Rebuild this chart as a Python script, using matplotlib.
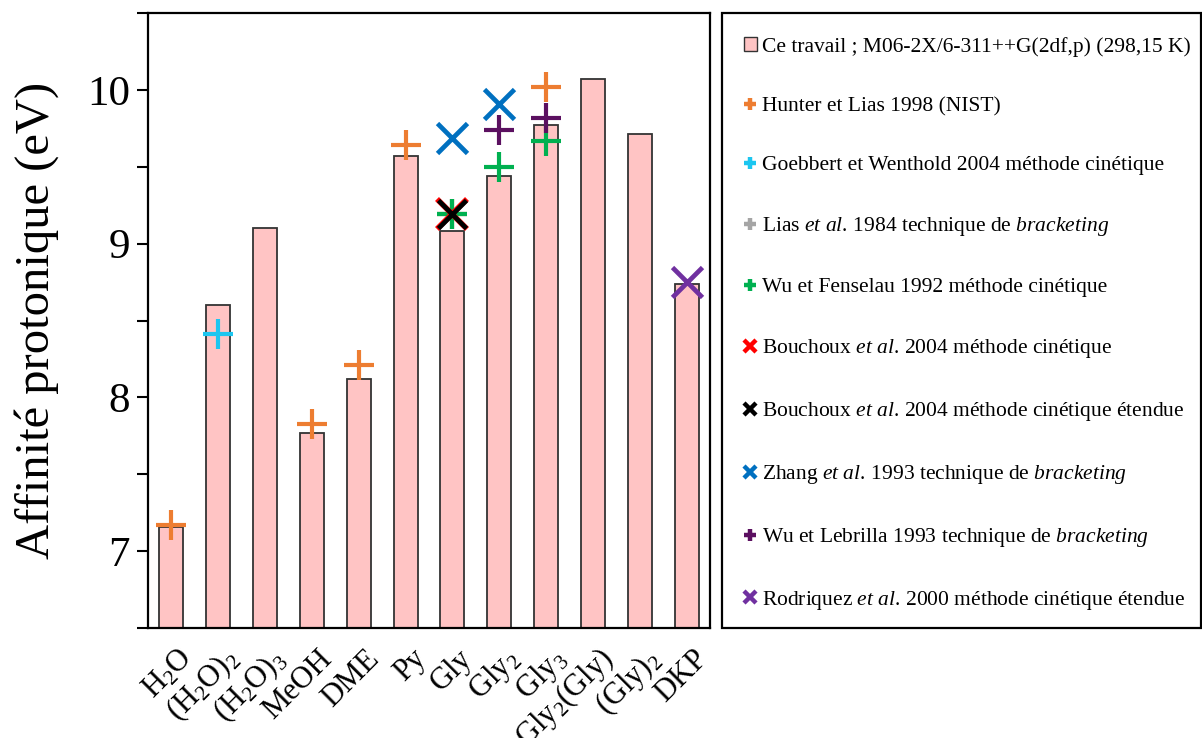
import numpy as np
import matplotlib
matplotlib.use("Agg")
import matplotlib.pyplot as plt
import matplotlib.transforms as mtransforms
from matplotlib.lines import Line2D
from matplotlib.patches import Patch, Rectangle

plt.rcParams['font.family'] = ['Liberation Serif', 'DejaVu Serif']
plt.rcParams['mathtext.fontset'] = 'custom'
plt.rcParams['mathtext.rm'] = 'Liberation Serif'
plt.rcParams['mathtext.it'] = 'Liberation Serif:italic'
plt.rcParams['mathtext.default'] = 'regular'

nan = np.nan
categories = ["H$_2$O", "(H$_2$O)$_2$", "(H$_2$O)$_3$", "MeOH", "DME", "Py", "Gly",
              "Gly$_2$", "Gly$_3$", "Gly$_2$(Gly)", "(Gly)$_2$", "DKP"]
ce_travail = [7.16, 8.60, 9.10, 7.77, 8.12, 9.57, 9.08, 9.44, 9.77, 10.07, 9.71, 8.74]
hunter     = [7.17, nan, nan, 7.83, 8.21, 9.64, 9.19, nan, 10.02, nan, nan, nan]
goebbert   = [nan, 8.41, nan, nan, nan, nan, nan, nan, nan, nan, nan, nan]
lias       = [nan, nan, nan, nan, nan, nan, 9.19, nan, nan, nan, nan, nan]
wu_fense   = [nan, nan, nan, nan, nan, nan, 9.19, 9.50, 9.67, nan, nan, nan]
bouch_cin  = [nan, nan, nan, nan, nan, nan, 9.19, nan, nan, nan, nan, nan]
bouch_ext  = [nan, nan, nan, nan, nan, nan, 9.19, nan, nan, nan, nan, nan]
zhang      = [nan, nan, nan, nan, nan, nan, 9.69, 9.91, nan, nan, nan, nan]
wu_lebr    = [nan, nan, nan, nan, nan, nan, nan, 9.74, 9.82, nan, nan, nan]
rodriquez  = [nan, nan, nan, nan, nan, nan, nan, nan, nan, nan, nan, 8.75]

labels = [
    "Ce travail ; M06-2X/6-311++G(2df,p) (298,15 K)",
    "Hunter et Lias 1998 (NIST)",
    "Goebbert et Wenthold 2004 méthode cinétique",
    r"Lias $\mathit{et\ al.}\,$1984 technique de $\mathit{bracketing}$",
    "Wu et Fenselau 1992 méthode cinétique",
    r"Bouchoux $\mathit{et\ al.}\,$2004 méthode cinétique",
    r"Bouchoux $\mathit{et\ al.}\,$2004 méthode cinétique étendue",
    r"Zhang $\mathit{et\ al.}\,$1993 technique de $\mathit{bracketing}$",
    r"Wu et Lebrilla 1993 technique de $\mathit{bracketing}$",
    r"Rodriquez $\mathit{et\ al.}\,$2000 méthode cinétique étendue",
]

fig = plt.figure(figsize=(12.02, 7.38), dpi=100)
ax = fig.add_axes([148/1202, 110/738, 562/1202, 615/738])

x = np.arange(len(categories))
ax.bar(x, ce_travail, width=0.51, color='#FFC4C4', edgecolor='#333333', linewidth=1.3, zorder=1)

series = [
    (hunter, '+', '#ED7D31', 22, 3.0),
    (lias, '+', '#A5A5A5', 22, 3.0),
    (goebbert, '+', '#1CC6F0', 22, 3.0),
    (wu_fense, '+', '#00B050', 22, 3.0),
    (bouch_cin, 'x', '#FF0000', 22, 4.0),
    (bouch_ext, 'x', '#000000', 20, 3.4),
    (zhang, 'x', '#0070C0', 22, 3.4),
    (wu_lebr, '+', '#5B1060', 22, 3.0),
    (rodriquez, 'x', '#7030A0', 22, 3.4),
]
for vals, m, c, ms, mew in series:
    ax.plot(x, vals, linestyle='none', marker=m, color=c, markersize=ms, markeredgewidth=mew, zorder=3)

ax.set_xlim(-0.5, len(categories) - 0.5)
ax.set_ylim(6.5, 10.5)
ax.set_yticks(np.arange(6.5, 10.51, 0.5))
ax.set_yticklabels(['' if abs(v - round(v)) > 1e-6 else str(int(round(v))) for v in np.arange(6.5, 10.51, 0.5)])
ax.tick_params(axis='y', direction='out', length=8, width=1.5, labelsize=31, pad=5)
ax.set_xticks(x)
ax.set_xticklabels(categories, rotation=45, ha='right', va='center', rotation_mode='anchor', fontsize=22)
ax.tick_params(axis='x', length=0, pad=19)
shift = mtransforms.ScaledTranslation(16/100, 0, fig.dpi_scale_trans)
for lab in ax.get_xticklabels():
    lab.set_transform(lab.get_transform() + shift)
for s in ax.spines.values():
    s.set_linewidth(1.6)
ax.set_ylabel("Affinité protonique (eV)", fontsize=35, labelpad=20)

# legend
handles = [Patch(facecolor='#FFC4C4', edgecolor='#333333', linewidth=1.0)]
leg_specs = [('+', '#ED7D31'), ('+', '#1CC6F0'), ('+', '#A5A5A5'), ('+', '#00B050'),
             ('x', '#FF0000'), ('x', '#000000'), ('x', '#0070C0'), ('+', '#5B1060'), ('x', '#7030A0')]
for m, c in leg_specs:
    handles.append(Line2D([], [], linestyle='none', marker=m, color=c, markersize=9, markeredgewidth=3.2))

fig.patches.append(Rectangle((722/1202, 110/738), 479/1202, 615/738, transform=fig.transFigure,
                             fill=False, edgecolor='black', linewidth=1.6))
leg = fig.legend(handles, labels, loc='upper left', bbox_to_anchor=(744/1202, 1 - 37/738),
                 frameon=False, fontsize=15.5, handlelength=0.6, handleheight=0.6,
                 handletextpad=0.25, labelspacing=1.85, borderaxespad=0, borderpad=0)

fig.savefig("out.png", dpi=100)
